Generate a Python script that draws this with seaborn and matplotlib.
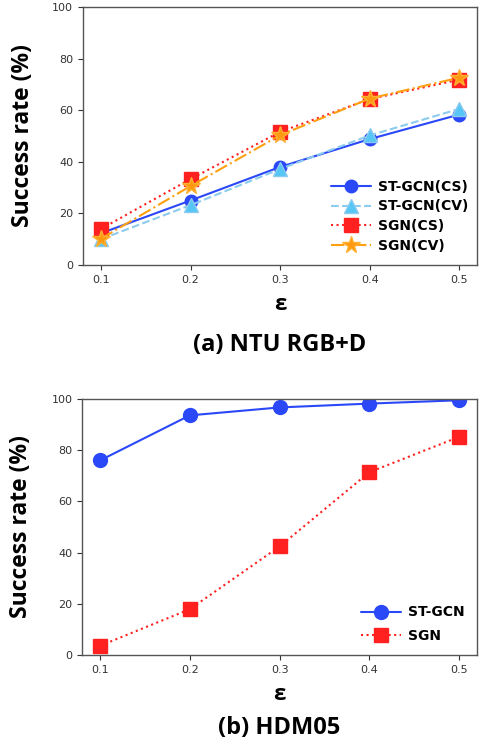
import matplotlib
matplotlib.use('Agg')
import matplotlib.pyplot as plt
import seaborn as sns
import pandas as pd

# data
eps = [0.1, 0.2, 0.3, 0.4, 0.5]
ntu_stgcn_cs = [12.3, 25.0, 38.0, 48.8, 58.3]
ntu_stgcn_cv = [10.0, 23.2, 37.2, 50.2, 60.5]
ntu_sgn_cs = [14.0, 33.3, 51.6, 64.3, 71.8]
ntu_sgn_cv = [10.2, 30.6, 50.3, 64.5, 72.6]
hdm_stgcn = [76.0, 93.6, 96.7, 98.2, 99.5]
hdm_sgn = [3.6, 17.9, 42.4, 71.4, 85.2]

sns.set_style('ticks')
plt.rcParams['font.family'] = ['DejaVu Sans']
plt.rcParams['text.color'] = 'black'

fig = plt.figure(figsize=(4.8, 7.48), dpi=100)
ax1 = fig.add_axes([0.173, 0.6457, 0.821, 0.345])
ax2 = fig.add_axes([0.171, 0.1243, 0.823, 0.3423])

blue = '#2b48f8'
styles = {
    'ST-GCN(CS)': dict(color=blue, linestyle='-', marker='o', markersize=9,
                       markeredgecolor=blue),
    'ST-GCN(CV)': dict(color='#8ccbee', linestyle='--', marker='^', markersize=10,
                       markerfacecolor='#55c6f6', markeredgecolor='#8ccbee'),
    'SGN(CS)': dict(color='#ff2020', linestyle=':', marker='s', markersize=10,
                    markeredgecolor='#ff2020'),
    'SGN(CV)': dict(color='#ffa010', linestyle='-.', marker='*', markersize=13,
                    markerfacecolor='#ff9a10', markeredgecolor='#ffb030'),
}

top = pd.DataFrame({'ST-GCN(CS)': ntu_stgcn_cs, 'ST-GCN(CV)': ntu_stgcn_cv,
                    'SGN(CS)': ntu_sgn_cs, 'SGN(CV)': ntu_sgn_cv}, index=eps)
for name in top.columns:
    sns.lineplot(x=top.index, y=top[name], ax=ax1, label=name, lw=1.5,
                 markeredgewidth=1, **styles[name])

bottom = pd.DataFrame({'ST-GCN': hdm_stgcn, 'SGN': hdm_sgn}, index=eps)
st = dict(styles['ST-GCN(CS)'], markersize=10)
sns.lineplot(x=bottom.index, y=bottom['ST-GCN'], ax=ax2, label='ST-GCN', lw=1.5,
             markeredgewidth=1, **st)
sns.lineplot(x=bottom.index, y=bottom['SGN'], ax=ax2, label='SGN', lw=1.5,
             markeredgewidth=1, **styles['SGN(CS)'])

big = ['Open Sans', 'DejaVu Sans']
for ax, cap, cy in [(ax1, '(a) NTU RGB+D', -0.262), (ax2, '(b) HDM05', -0.24)]:
    ax.set_ylim(0, 100)
    ax.set_xticks(eps)
    ax.set_xticklabels([str(e) for e in eps])
    ax.set_yticks([0, 20, 40, 60, 80, 100])
    ax.tick_params(labelsize=8, colors='#333333', length=3.5)
    for sp in ax.spines.values():
        sp.set_color('#555555')
        sp.set_linewidth(1.0)
    ax.set_ylabel('Success rate (%)', fontsize=16.5, fontweight='bold', family=big,
                  color='black')
    ax.set_xlabel('\u03b5', fontsize=16, fontweight='bold', labelpad=7, family=big,
                  color='black')
    ax.yaxis.set_label_coords(-0.123, 0.5)
    ax.text(0.5, cy, cap, transform=ax.transAxes, ha='center', va='top',
            fontsize=17, fontweight='bold', family=big)

ax1.legend(loc='lower right', bbox_to_anchor=(1.01, 0.0), frameon=False,
           prop={'weight': 'bold', 'size': 10}, handlelength=2.9,
           handletextpad=0.5, labelspacing=0.4)
ax2.legend(loc='lower right', frameon=False,
           prop={'weight': 'bold', 'size': 10}, handlelength=2.9,
           handletextpad=0.5, labelspacing=0.65)

fig.savefig('out.png', dpi=100)
